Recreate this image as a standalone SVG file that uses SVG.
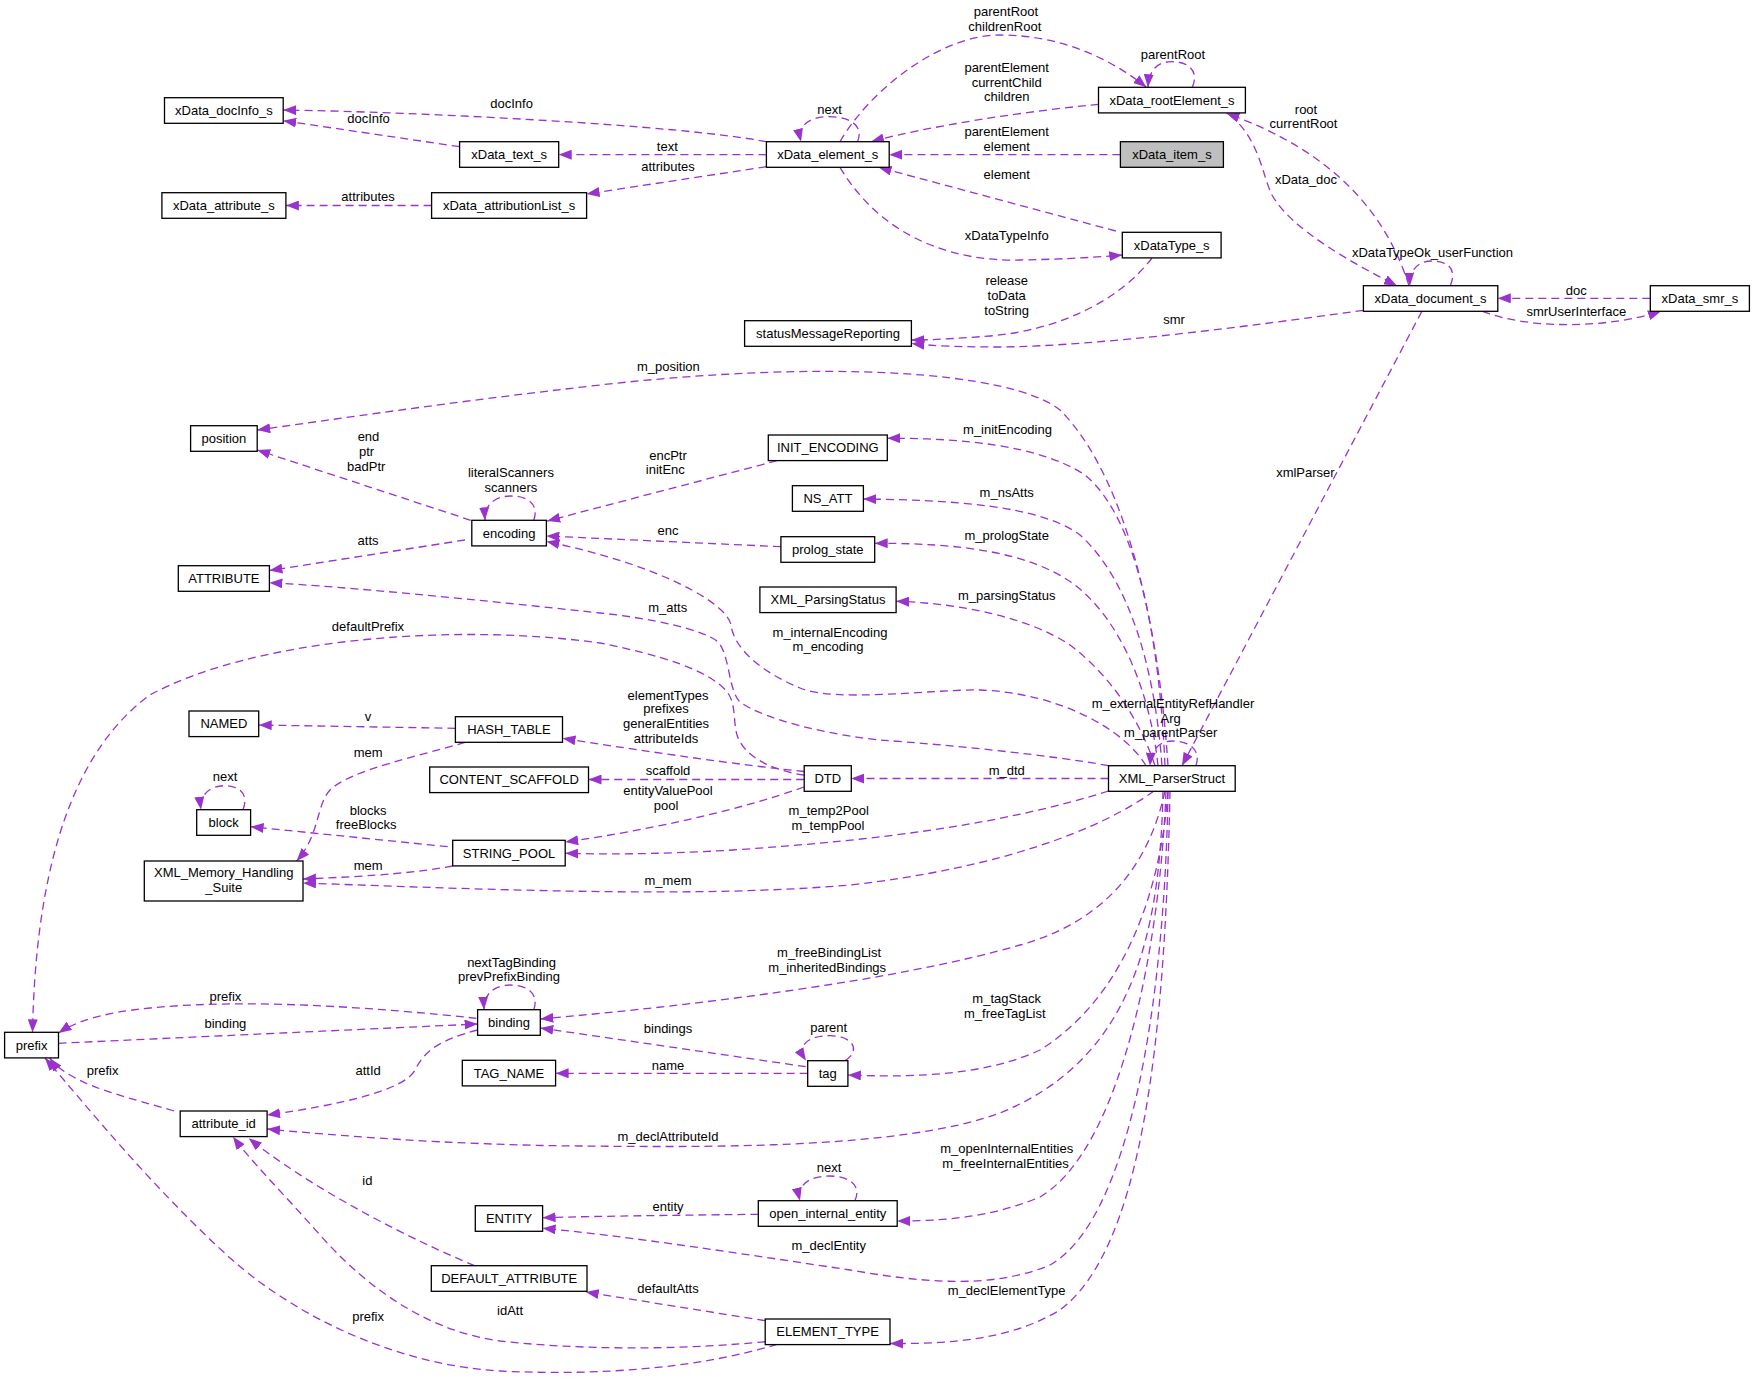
<svg xmlns="http://www.w3.org/2000/svg" width="1755" height="1381" viewBox="0 0 1755 1381">
<style>
.n rect{fill:#fff;stroke:#000;stroke-width:1.3}
.n text,.l text{font-family:"Liberation Sans",Arial,sans-serif;font-size:13px;fill:#000;text-anchor:middle}
.e{fill:none;stroke:#9a32cd;stroke-width:1.3;stroke-dasharray:8,5;marker-end:url(#a)}
</style>
<defs>
<marker id="a" viewBox="0 0 13 10" refX="13" refY="5" markerWidth="13" markerHeight="10" markerUnits="userSpaceOnUse" orient="auto">
<path d="M0,0 L13,5 L0,10 z" fill="#9a32cd"/>
</marker>
</defs>
<rect width="1755" height="1381" fill="#fff"/>
<g id="connectors">
<path class="e" d="M766.4,141.7 C680,125 420,112 283.2,110"/>
<path class="e" d="M459.6,146.7 L283.2,120.7"/>
<path class="e" d="M766.4,154.7 L558.7,154.7"/>
<path class="e" d="M766.4,166.7 L586.6,194"/>
<path class="e" d="M431.6,205.5 L285.9,205.5"/>
<path class="e" d="M857.4,141.7 C864,127 852,116.7 829,116.7 C810,116.7 797,125 801,141.7"/>
<path class="e" d="M840,141.7 C870,90 940,35 1000,35 C1060,35 1110,58 1146.4,87.3"/>
<path class="e" d="M1098.5,104.3 C1020,112 930,126 871,141.7"/>
<path class="e" d="M1192.3,87.3 C1199,72 1190,61.7 1172,61.7 C1157,61.7 1149,70 1148,87.3"/>
<path class="e" d="M1120.4,154.7 L889.2,154.7"/>
<path class="e" d="M1115.8,231 L878.5,167.3"/>
<path class="e" d="M840,167.3 C880,235 950,262 1020,260 C1070,259 1100,257 1122.3,255"/>
<path class="e" d="M1152,258 C1120,300 1060,330 990,336 C950,339 930,340 911.4,340"/>
<path class="e" d="M1363.4,310.3 C1250,326 1100,346 1000,347 C960,347 935,346 911.4,343.5"/>
<path class="e" d="M1409,285.7 C1385,210 1330,150 1226.4,113.3"/>
<path class="e" d="M1230,115 C1260,140 1262,175 1272,195 C1290,228 1350,262 1397,285.7"/>
<path class="e" d="M1450.3,285.7 C1457,270 1449,261 1432,261 C1418,261 1409,270 1410,285.7"/>
<path class="e" d="M1650.3,298.3 L1497.8,298.3"/>
<path class="e" d="M1482.6,311.3 C1530,330 1610,328 1661,311.3"/>
<path class="e" d="M1421.9,311.3 L1182,765.7"/>
<path class="e" d="M1168,765.7 C1160,640 1130,480 1060,410 C1010,370 820,360 600,385 C450,402 330,420 257.2,430"/>
<path class="e" d="M1165,765.7 C1160,650 1140,520 1085,475 C1040,445 960,438 887.3,438.3"/>
<path class="e" d="M1162,765.7 C1155,670 1130,580 1080,535 C1040,505 950,500 863.2,499"/>
<path class="e" d="M1158,765.7 C1150,690 1120,620 1075,585 C1030,552 960,543 874.7,543.3"/>
<path class="e" d="M1155,765.7 C1140,720 1110,675 1070,645 C1030,618 960,603 896.1,601.3"/>
<path class="e" d="M1146,765.7 C1125,730 1060,693 980,690 C935,689 835,703 800,688 C775,678 735,655 731,625 C727,603 660,565 546.4,541.5"/>
<path class="e" d="M1108.5,765.7 C1050,755 950,745 880,740 C830,735 765,720 740,702 C728,690 730,655 718,642 C705,630 650,618 600,613 C480,600 350,587 269.4,582.7"/>
<path class="e" d="M804.2,775 C780,772 745,760 737,735 C733,720 736,705 728,693 C710,670 660,655 600,643 C450,622 250,640 150,695 C60,760 35,900 32.5,1032.3"/>
<path class="e" d="M780.9,546.7 L546.4,536"/>
<path class="e" d="M777,460.7 L547.2,521"/>
<path class="e" d="M533.8,520.3 C539,505 529,496 511,496 C495,496 484,505 485,520.3"/>
<path class="e" d="M470.7,520.3 L257.2,450"/>
<path class="e" d="M465,540 L269.4,570.5"/>
<path class="e" d="M455.4,728.3 L258.7,725"/>
<path class="e" d="M465,742.3 C420,756 350,770 330,790 C316,805 320,835 296.6,861"/>
<path class="e" d="M452.7,866 C420,872 380,876 303,879"/>
<path class="e" d="M447.7,846.7 L250.6,826.7"/>
<path class="e" d="M243,809.7 C249,795 240,785.7 225,785.7 C210,785.7 199,795 201,809.7"/>
<path class="e" d="M804.2,771.5 C740,765 650,752 562.5,738.3"/>
<path class="e" d="M804.2,779.5 L588.5,779.5"/>
<path class="e" d="M1108.5,778.5 L851.3,778.5"/>
<path class="e" d="M804,787 C740,810 650,830 565.2,842"/>
<path class="e" d="M1108.5,791 C1000,825 880,840 733,850 C650,855 600,854 565.2,853.3"/>
<path class="e" d="M1154,791 C1100,830 1000,868 850,885 C700,898 500,890 303,883"/>
<path class="e" d="M1165,791 C1150,860 1110,920 1020,945 C900,980 700,1005 540.3,1019"/>
<path class="e" d="M805.8,1066.7 L540.3,1028"/>
<path class="e" d="M807.7,1073.3 L555.6,1073.3"/>
<path class="e" d="M845,1060.7 C862,1050 852,1035.7 830,1035.7 C808,1035.7 796,1045 806,1060.7"/>
<path class="e" d="M1168,791 C1160,900 1120,1000 1040,1050 C980,1078 900,1077 847.9,1075"/>
<path class="e" d="M1163,791 C1160,940 1130,1060 1000,1113 C900,1150 700,1147 580,1146 C450,1145 330,1135 267.1,1129"/>
<path class="e" d="M477.6,1030 C440,1040 425,1050 415,1070 C405,1090 340,1105 267.1,1115"/>
<path class="e" d="M476.4,1018.3 C380,1008 250,998 150,1008 C100,1013 75,1022 58.5,1033"/>
<path class="e" d="M58.5,1043.3 L477.6,1024"/>
<path class="e" d="M533.8,1009.7 C539,995 529,985 510,985 C494,985 483,995 484.1,1009.7"/>
<path class="e" d="M174.1,1111 C130,1098 95,1090 70,1075 C60,1069 54,1064 49.7,1058"/>
<path class="e" d="M777.1,1344.3 C700,1368 600,1376 500,1371 C400,1365 300,1320 230,1258 C150,1185 90,1110 45,1058"/>
<path class="e" d="M765.2,1341.7 C700,1348 600,1352 500,1341 C420,1330 360,1280 320,1235 C280,1190 250,1160 233,1136.7"/>
<path class="e" d="M474.5,1265.7 C420,1243 320,1195 248.7,1138.3"/>
<path class="e" d="M765.2,1320.7 L585.7,1292"/>
<path class="e" d="M758.3,1214.3 C700,1215 600,1216 542.6,1217.7"/>
<path class="e" d="M854.8,1200.7 C862,1186 850,1176 829,1176 C810,1176 796,1185 800,1200.7"/>
<path class="e" d="M1166,791 C1160,950 1120,1150 1040,1197 C990,1218 940,1221 897.2,1221"/>
<path class="e" d="M1168,791 C1165,1000 1130,1220 1050,1265 C990,1290 920,1282 850,1270 C750,1255 620,1235 542.6,1228.3"/>
<path class="e" d="M1170,791 C1165,1050 1140,1250 1060,1310 C1010,1340 950,1344 890,1343.5"/>
<path class="e" d="M1196,765.7 C1201,750 1190,741 1172,741 C1160,741 1151,749 1150,765.7"/>
<g class="l">
<text x="511.6" y="108.2">docInfo</text>
<text x="368.5" y="123.2">docInfo</text>
<text x="667.3" y="151.2">text</text>
<text x="668" y="171.2">attributes</text>
<text x="368.1" y="201.2">attributes</text>
<text x="829.5" y="113.5">next</text>
<text x="1006" y="16.2">parentRoot</text>
<text x="1004.8" y="31.2">childrenRoot</text>
<text x="1006.7" y="72.2">parentElement</text>
<text x="1006.7" y="86.8">currentChild</text>
<text x="1006.7" y="101.2">children</text>
<text x="1173" y="58.5">parentRoot</text>
<text x="1006.7" y="136.2">parentElement</text>
<text x="1006.7" y="151.2">element</text>
<text x="1006.7" y="179.2">element</text>
<text x="1006.7" y="239.8">xDataTypeInfo</text>
<text x="1006.7" y="285.2">release</text>
<text x="1006.7" y="300.2">toData</text>
<text x="1006.7" y="315.2">toString</text>
<text x="1174" y="323.5">smr</text>
<text x="1306" y="113.5">root</text>
<text x="1303.5" y="128.2">currentRoot</text>
<text x="1306" y="184.2">xData_doc</text>
<text x="1432.5" y="257.2">xDataTypeOk_userFunction</text>
<text x="1576.3" y="295.2">doc</text>
<text x="1576.3" y="316.2">smrUserInterface</text>
<text x="1305.4" y="477.2">xmlParser</text>
<text x="668.4" y="371.2">m_position</text>
<text x="1007.5" y="433.5">m_initEncoding</text>
<text x="1006.7" y="496.5">m_nsAtts</text>
<text x="1006.7" y="539.5">m_prologState</text>
<text x="1006.7" y="600.2">m_parsingStatus</text>
<text x="830" y="636.5">m_internalEncoding</text>
<text x="828" y="651.2">m_encoding</text>
<text x="667.7" y="612.2">m_atts</text>
<text x="368" y="631.2">defaultPrefix</text>
<text x="668" y="535.2">enc</text>
<text x="668" y="459.5">encPtr</text>
<text x="665.3" y="473.5">initEnc</text>
<text x="510.9" y="477.2">literalScanners</text>
<text x="510.9" y="492.2">scanners</text>
<text x="368.5" y="441.2">end</text>
<text x="366.6" y="456.2">ptr</text>
<text x="366.2" y="470.5">badPtr</text>
<text x="368.1" y="545.2">atts</text>
<text x="368.1" y="721.2">v</text>
<text x="368.1" y="757.2">mem</text>
<text x="368.1" y="869.5">mem</text>
<text x="368.1" y="815.2">blocks</text>
<text x="366.2" y="828.8">freeBlocks</text>
<text x="225" y="781.2">next</text>
<text x="668" y="699.5">elementTypes</text>
<text x="666" y="713.2">prefixes</text>
<text x="666" y="728.2">generalEntities</text>
<text x="666" y="742.8">attributeIds</text>
<text x="668" y="775.2">scaffold</text>
<text x="1006.7" y="775.2">m_dtd</text>
<text x="668" y="795.2">entityValuePool</text>
<text x="666" y="809.5">pool</text>
<text x="828.7" y="815.2">m_temp2Pool</text>
<text x="828" y="829.5">m_tempPool</text>
<text x="668" y="884.5">m_mem</text>
<text x="829.1" y="957.2">m_freeBindingList</text>
<text x="827.2" y="972.2">m_inheritedBindings</text>
<text x="668" y="1033.2">bindings</text>
<text x="668" y="1069.5">name</text>
<text x="828.7" y="1032.2">parent</text>
<text x="1006.7" y="1003.2">m_tagStack</text>
<text x="1004.8" y="1017.8">m_freeTagList</text>
<text x="668" y="1141.2">m_declAttributeId</text>
<text x="368.1" y="1075.2">attId</text>
<text x="225.4" y="1000.5">prefix</text>
<text x="225.4" y="1027.8">binding</text>
<text x="511.6" y="967.2">nextTagBinding</text>
<text x="509" y="981.2">prevPrefixBinding</text>
<text x="102.6" y="1075.2">prefix</text>
<text x="368.1" y="1321.2">prefix</text>
<text x="510.1" y="1314.5">idAtt</text>
<text x="367.4" y="1184.5">id</text>
<text x="668" y="1292.8">defaultAtts</text>
<text x="668" y="1211.2">entity</text>
<text x="829" y="1172.2">next</text>
<text x="1006.7" y="1153.2">m_openInternalEntities</text>
<text x="1005.6" y="1167.8">m_freeInternalEntities</text>
<text x="828.7" y="1249.5">m_declEntity</text>
<text x="1006.7" y="1295.2">m_declElementType</text>
<text x="1173" y="707.8">m_externalEntityRefHandler</text>
<text x="1170.7" y="722.8">Arg</text>
<text x="1170.7" y="737.2">m_parentParser</text>
</g>
</g>
<g id="xData_docInfo_s" class="n"><rect x="164.5" y="97.7" width="118.7" height="25.6"/><text x="223.9" y="115">xData_docInfo_s</text></g>
<g id="xData_text_s" class="n"><rect x="459.6" y="141.7" width="99.1" height="25.6"/><text x="509.2" y="159">xData_text_s</text></g>
<g id="xData_attribute_s" class="n"><rect x="161.9" y="192.7" width="124" height="25.6"/><text x="223.9" y="210">xData_attribute_s</text></g>
<g id="xData_attributionList_s" class="n"><rect x="431.6" y="192.7" width="155" height="25.6"/><text x="509.1" y="210">xData_attributionList_s</text></g>
<g id="xData_element_s" class="n"><rect x="766.4" y="141.7" width="122.8" height="25.6"/><text x="827.8" y="159">xData_element_s</text></g>
<g id="xData_rootElement_s" class="n"><rect x="1098.5" y="87.3" width="146.9" height="25.6"/><text x="1172" y="104.6">xData_rootElement_s</text></g>
<g id="xData_item_s" class="n"><rect x="1120.4" y="141.7" width="103" height="25.6" style="fill:#bfbfbf"/><text x="1171.9" y="159">xData_item_s</text></g>
<g id="xDataType_s" class="n"><rect x="1122.3" y="232.3" width="98.8" height="25.6"/><text x="1171.7" y="249.6">xDataType_s</text></g>
<g id="statusMessageReporting" class="n"><rect x="744.6" y="320.7" width="166.8" height="25.6"/><text x="828" y="338">statusMessageReporting</text></g>
<g id="xData_document_s" class="n"><rect x="1363.4" y="285.7" width="134.4" height="25.6"/><text x="1430.6" y="303">xData_document_s</text></g>
<g id="xData_smr_s" class="n"><rect x="1650.3" y="285.7" width="99.1" height="25.6"/><text x="1699.9" y="303">xData_smr_s</text></g>
<g id="position" class="n"><rect x="190.6" y="425.7" width="66.6" height="25.6"/><text x="223.9" y="443">position</text></g>
<g id="INIT_ENCODING" class="n"><rect x="768.3" y="435" width="119" height="25.6"/><text x="827.8" y="452.3">INIT_ENCODING</text></g>
<g id="NS_ATT" class="n"><rect x="792.4" y="485.7" width="71" height="25.6"/><text x="827.9" y="503">NS_ATT</text></g>
<g id="prolog_state" class="n"><rect x="780.9" y="536.7" width="93.8" height="25.6"/><text x="827.8" y="554">prolog_state</text></g>
<g id="XML_ParsingStatus" class="n"><rect x="759.9" y="587" width="136.2" height="25.6"/><text x="828" y="604.3">XML_ParsingStatus</text></g>
<g id="encoding" class="n"><rect x="471.8" y="520.3" width="74.6" height="25.6"/><text x="509.1" y="537.6">encoding</text></g>
<g id="ATTRIBUTE" class="n"><rect x="178.3" y="565.7" width="91.1" height="25.6"/><text x="223.9" y="583">ATTRIBUTE</text></g>
<g id="NAMED" class="n"><rect x="189" y="711" width="69.7" height="25.6"/><text x="223.9" y="728.3">NAMED</text></g>
<g id="HASH_TABLE" class="n"><rect x="455.4" y="716.7" width="107.1" height="25.6"/><text x="509" y="734">HASH_TABLE</text></g>
<g id="CONTENT_SCAFFOLD" class="n"><rect x="429.7" y="767" width="158.8" height="25.6"/><text x="509.1" y="784.3">CONTENT_SCAFFOLD</text></g>
<g id="DTD" class="n"><rect x="804.2" y="765.7" width="47.1" height="25.6"/><text x="827.8" y="783">DTD</text></g>
<g id="XML_ParserStruct" class="n"><rect x="1108.5" y="765.7" width="126.7" height="25.6"/><text x="1171.9" y="783">XML_ParserStruct</text></g>
<g id="block" class="n"><rect x="196.7" y="809.7" width="53.9" height="25.6"/><text x="223.7" y="827">block</text></g>
<g id="STRING_POOL" class="n"><rect x="452.7" y="840.3" width="112.5" height="25.6"/><text x="509" y="857.6">STRING_POOL</text></g>
<g id="XML_Memory_Handling_Suite" class="n"><rect x="144.3" y="861" width="158.7" height="40"/><text x="223.7" y="877.2">XML_Memory_Handling</text><text x="223.7" y="891.8">_Suite</text></g>
<g id="prefix" class="n"><rect x="4.6" y="1032.3" width="53.9" height="25.6"/><text x="31.6" y="1049.6">prefix</text></g>
<g id="binding" class="n"><rect x="477.6" y="1009.7" width="62.7" height="25.6"/><text x="509" y="1027">binding</text></g>
<g id="TAG_NAME" class="n"><rect x="462.3" y="1060.3" width="93.3" height="25.6"/><text x="509" y="1077.6">TAG_NAME</text></g>
<g id="tag" class="n"><rect x="807.7" y="1060.7" width="40.2" height="25.6"/><text x="827.8" y="1078">tag</text></g>
<g id="attribute_id" class="n"><rect x="180.2" y="1111" width="86.9" height="25.6"/><text x="223.7" y="1128.3">attribute_id</text></g>
<g id="ENTITY" class="n"><rect x="475.3" y="1205.7" width="67.3" height="25.6"/><text x="509" y="1223">ENTITY</text></g>
<g id="open_internal_entity" class="n"><rect x="758.3" y="1200.7" width="138.9" height="25.6"/><text x="827.8" y="1218">open_internal_entity</text></g>
<g id="DEFAULT_ATTRIBUTE" class="n"><rect x="431.3" y="1265.7" width="155.7" height="25.6"/><text x="509.2" y="1283">DEFAULT_ATTRIBUTE</text></g>
<g id="ELEMENT_TYPE" class="n"><rect x="765.2" y="1319" width="124.8" height="25.6"/><text x="827.6" y="1336.3">ELEMENT_TYPE</text></g>
</svg>
